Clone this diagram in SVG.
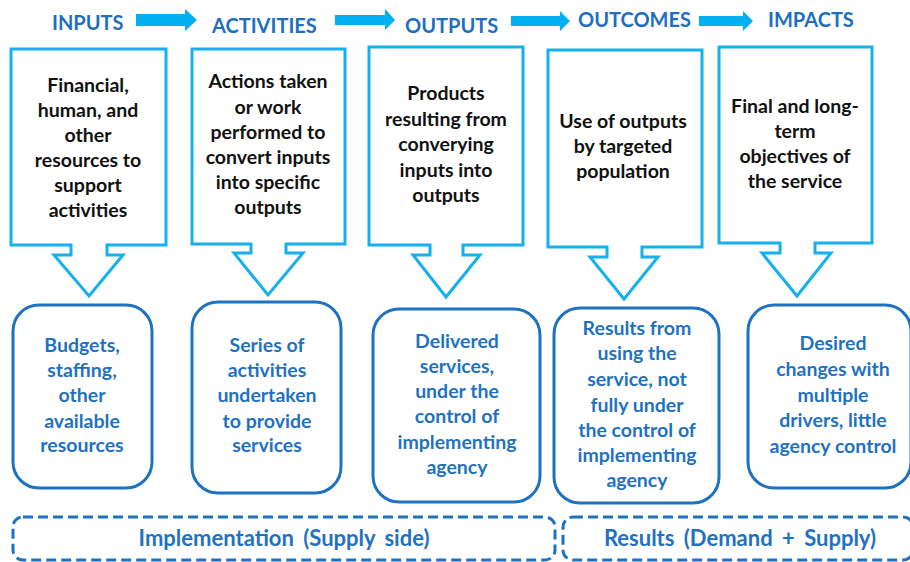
<svg xmlns="http://www.w3.org/2000/svg" width="910" height="562" viewBox="0 0 910 562">
<style>
.hdr{font-family:Lato,"Liberation Sans",sans-serif;font-weight:bold;font-size:20px;fill:#1F6FBF}
.top{font-family:Lato,"Liberation Sans",sans-serif;font-weight:bold;font-size:19.5px;fill:#111;text-anchor:middle}
.bot{font-family:Lato,"Liberation Sans",sans-serif;font-weight:bold;font-size:19.5px;fill:#1F72C0;text-anchor:middle}
.band{font-family:Lato,"Liberation Sans",sans-serif;font-weight:bold;font-size:22px;fill:#1F72C0;text-anchor:middle;word-spacing:4px}
.callout{fill:#fff;stroke:#16B0EC;stroke-width:3;stroke-linejoin:miter}
.rbox{fill:#fff;stroke:#1F72C0;stroke-width:3}
.dash{fill:none;stroke:#1F72C0;stroke-width:3;stroke-dasharray:10 5}
.harrow{fill:#00B0F0}
</style>
<rect width="910" height="562" fill="#fff"/>
<g id="headers">
<text class="hdr" x="52" y="30">INPUTS</text>
<text class="hdr" x="212" y="33">ACTIVITIES</text>
<text class="hdr" x="405" y="33">OUTPUTS</text>
<text class="hdr" x="578" y="27">OUTCOMES</text>
<text class="hdr" x="768" y="27">IMPACTS</text>
</g>
<g id="connectors">
<polygon class="harrow" points="136,14 185,14 185,9 197,20 185,31 185,26 136,26"/>
<polygon class="harrow" points="335,15 385,15 385,9 395,20 385,30 385,25 335,25"/>
<polygon class="harrow" points="511,16 560,16 560,11 570,21 560,31 560,26 511,26"/>
<polygon class="harrow" points="699,16 743,16 743,11 753,21 743,31 743,26 699,26"/>
</g>
<g id="inputs-top">
<path class="callout" d="M11 49 H166 V245 H107 V255 H123 L89 296 L54 255 H71 V245 H11 Z"/>
<text class="top" x="88" y="92">Financial,</text>
<text class="top" x="88" y="117">human, and</text>
<text class="top" x="88" y="142">other</text>
<text class="top" x="88" y="167">resources to</text>
<text class="top" x="88" y="192">support</text>
<text class="top" x="88" y="217">activities</text>
</g>
<g id="activities-top">
<path class="callout" d="M192 49 H345 V244 H286 V253 H303 L268 295 L234 253 H251 V244 H192 Z"/>
<text class="top" x="268" y="88">Actions taken</text>
<text class="top" x="268" y="114">or work</text>
<text class="top" x="268" y="139">performed to</text>
<text class="top" x="268" y="164">convert inputs</text>
<text class="top" x="268" y="189">into specific</text>
<text class="top" x="268" y="214">outputs</text>
</g>
<g id="outputs-top">
<path class="callout" d="M369 47 H523 V245 H463 V255 H480 L446 297 L413 255 H430 V245 H369 Z"/>
<text class="top" x="446" y="100">Products</text>
<text class="top" x="446" y="126">resulting from</text>
<text class="top" x="446" y="151">converying</text>
<text class="top" x="446" y="177">inputs into</text>
<text class="top" x="446" y="202">outputs</text>
</g>
<g id="outcomes-top">
<path class="callout" d="M548 50 H702 V247 H642 V257 H658 L624 299 L590 257 H607 V247 H548 Z"/>
<text class="top" x="623" y="128">Use of outputs</text>
<text class="top" x="623" y="153">by targeted</text>
<text class="top" x="623" y="178">population</text>
</g>
<g id="impacts-top">
<path class="callout" d="M719 47 H872 V243 H815 V253 H831 L797 296 L762 253 H780 V243 H719 Z"/>
<text class="top" x="795" y="113">Final and long-</text>
<text class="top" x="795" y="138">term</text>
<text class="top" x="795" y="163">objectives of</text>
<text class="top" x="795" y="188">the service</text>
</g>
<g id="inputs-bottom">
<rect class="rbox" x="13" y="305" width="139" height="183" rx="26"/>
<text class="bot" x="82" y="352">Budgets,</text>
<text class="bot" x="82" y="377">staffing,</text>
<text class="bot" x="82" y="402">other</text>
<text class="bot" x="82" y="428">available</text>
<text class="bot" x="82" y="452">resources</text>
</g>
<g id="activities-bottom">
<rect class="rbox" x="192" y="302" width="149" height="191" rx="26"/>
<text class="bot" x="267" y="352">Series of</text>
<text class="bot" x="267" y="377">activities</text>
<text class="bot" x="267" y="402">undertaken</text>
<text class="bot" x="267" y="428">to provide</text>
<text class="bot" x="267" y="452">services</text>
</g>
<g id="outputs-bottom">
<rect class="rbox" x="373" y="309" width="167" height="193" rx="26"/>
<text class="bot" x="457" y="348">Delivered</text>
<text class="bot" x="457" y="373">services,</text>
<text class="bot" x="457" y="398">under the</text>
<text class="bot" x="457" y="423">control of</text>
<text class="bot" x="457" y="449">implementing</text>
<text class="bot" x="457" y="474">agency</text>
</g>
<g id="outcomes-bottom">
<rect class="rbox" x="554" y="308" width="165" height="195" rx="26"/>
<text class="bot" x="637" y="335">Results from</text>
<text class="bot" x="637" y="360">using the</text>
<text class="bot" x="637" y="386">service, not</text>
<text class="bot" x="637" y="412">fully under</text>
<text class="bot" x="637" y="437">the control of</text>
<text class="bot" x="637" y="462">implementing</text>
<text class="bot" x="637" y="487">agency</text>
</g>
<g id="impacts-bottom">
<rect class="rbox" x="748" y="305" width="163" height="183" rx="26"/>
<text class="bot" x="833" y="350">Desired</text>
<text class="bot" x="833" y="376">changes with</text>
<text class="bot" x="833" y="402">multiple</text>
<text class="bot" x="833" y="427">drivers, little</text>
<text class="bot" x="833" y="453">agency control</text>
</g>
<g id="implementation">
<rect class="dash" x="13" y="517" width="542" height="43" rx="10"/>
<text class="band" x="284" y="546">Implementation (Supply side)</text>
</g>
<g id="results">
<rect class="dash" x="563" y="517" width="350" height="43" rx="10"/>
<text class="band" x="740" y="546">Results (Demand + Supply)</text>
</g>
</svg>
